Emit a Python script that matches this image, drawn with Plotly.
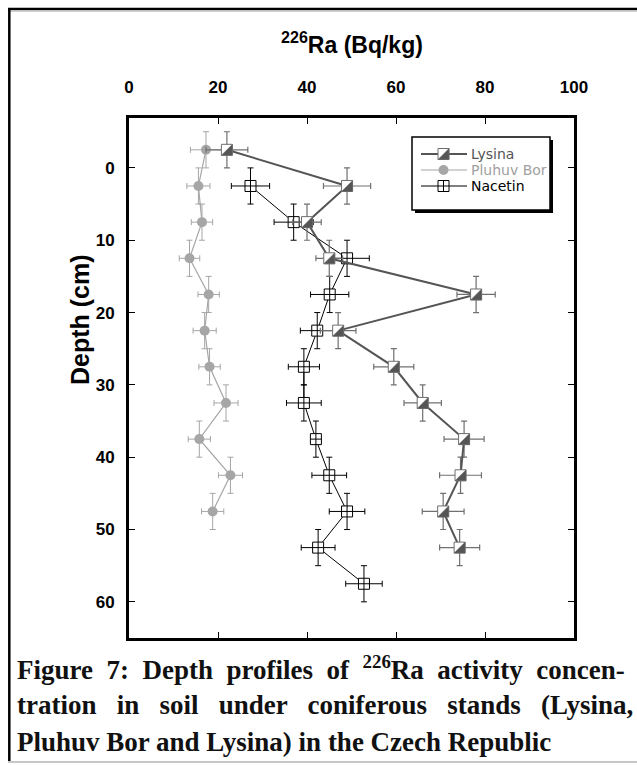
import plotly.graph_objects as go

# ---------------- data ----------------
lysina_depth = [-2.5, 2.5, 7.5, 12.5, 17.5, 22.5, 27.5, 32.5, 37.5, 42.5, 47.5, 52.5]
lysina_ra = [22.0, 49.0, 40.0, 45.0, 78.0, 47.0, 59.5, 66.0, 75.3, 74.5, 70.6, 74.3]
lysina_ra_err = [4.7, 5.3, 3.2, 3.0, 4.3, 4.0, 4.5, 4.2, 4.5, 4.7, 4.7, 4.5]
lysina_depth_err = [2.5, 2.5, 2.5, 2.5, 2.5, 2.5, 2.5, 2.5, 2.5, 2.5, 2.5, 2.5]

pluhuv_depth = [-2.5, 2.5, 7.5, 12.5, 17.5, 22.5, 27.5, 32.5, 37.5, 42.5, 47.5]
pluhuv_ra = [17.3, 15.6, 16.4, 13.6, 17.9, 17.0, 18.1, 21.8, 15.8, 22.8, 18.8]
pluhuv_ra_err = [3.5, 2.6, 2.4, 2.3, 2.4, 2.6, 2.4, 2.7, 2.5, 2.7, 2.5]
pluhuv_depth_err = [2.5, 2.5, 2.5, 2.5, 2.5, 2.5, 2.5, 2.5, 2.5, 2.5, 2.5]

nacetin_depth = [2.5, 7.5, 12.5, 17.5, 22.5, 27.5, 32.5, 37.5, 42.5, 47.5, 52.5, 57.5]
nacetin_ra = [27.3, 37.0, 49.0, 45.1, 42.3, 39.3, 39.3, 42.0, 45.0, 49.0, 42.5, 52.8]
nacetin_ra_err = [4.3, 4.4, 5.0, 4.3, 3.8, 3.5, 3.9, 1.0, 3.9, 4.0, 3.8, 4.1]
nacetin_depth_err = [2.5, 2.5, 2.5, 2.5, 2.5, 2.5, 2.5, 2.5, 2.5, 2.5, 2.5, 2.5]

series_names = ["Lysina", "Pluhuv Bor", "Nacetin"]
x_ticks = [0, 20, 40, 60, 80, 100]
y_ticks = [0, 10, 20, 30, 40, 50, 60]
x_title = "<sup>226</sup>Ra (Bq/kg)"
y_title = "Depth (cm)"
# caption lines; lines 1-2 are justified in the original (extra spacing between words)
caption_lines = [
    ("Figure 7: Depth profiles of <sup>226</sup>Ra activity concen-", 1),
    ("tration in soil under coniferous stands (Lysina,", 2),
    ("Pluhuv Bor and Lysina) in the Czech Republic", 0),
]

# ---------------- layout geometry ----------------
W, H = 637, 765
L, R, T, B = 129, 63, 118, 127
PW, PH = W - L - R, H - T - B

def px(xp):
    return (xp - L) / PW

def py(yp):
    return 1 - (yp - T) / PH

LYS_LINE = "#555555"
LYS_FILL = "#555555"
LYS_EDGE = "#6e6e6e"
PLU = "#a6a6a6"
NAC = "#000000"

AX_FONT = "Liberation Sans, Arial"

fig = go.Figure()

fig.add_trace(go.Scatter(
    x=pluhuv_ra, y=pluhuv_depth, mode="lines+markers", name=series_names[1],
    line=dict(color=PLU, width=1.2),
    marker=dict(symbol="circle", size=10, color=PLU),
    error_x=dict(type="data", array=pluhuv_ra_err, color=PLU, thickness=1, width=3),
    error_y=dict(type="data", array=pluhuv_depth_err, color=PLU, thickness=1, width=3),
    showlegend=False,
))

fig.add_trace(go.Scatter(
    x=nacetin_ra, y=nacetin_depth, mode="lines+markers", name=series_names[2],
    line=dict(color=NAC, width=1),
    marker=dict(symbol="square-cross", size=11, color="white", line=dict(color=NAC, width=1)),
    error_x=dict(type="data", array=nacetin_ra_err, color=NAC, thickness=1, width=3),
    error_y=dict(type="data", array=nacetin_depth_err, color=NAC, thickness=1, width=3),
    showlegend=False,
))

fig.add_trace(go.Scatter(
    x=lysina_ra, y=lysina_depth, mode="lines", name=series_names[0],
    line=dict(color=LYS_LINE, width=2),
    error_x=dict(type="data", array=lysina_ra_err, color="#707070", thickness=1.2, width=3),
    error_y=dict(type="data", array=lysina_depth_err, color="#707070", thickness=1.2, width=3),
    showlegend=False,
))

shapes = []
r = 5.5

def half_square(xref, yref, xa, ya):
    out = []
    out.append(dict(type="path", xref=xref, yref=yref, xsizemode="pixel", ysizemode="pixel",
                    xanchor=xa, yanchor=ya,
                    path=f"M{-r},{-r} L{r},{-r} L{r},{r} L{-r},{r} Z",
                    fillcolor="white", line=dict(color=LYS_EDGE, width=1), layer="above"))
    out.append(dict(type="path", xref=xref, yref=yref, xsizemode="pixel", ysizemode="pixel",
                    xanchor=xa, yanchor=ya,
                    path=f"M{r},{r} L{r},{-r} L{-r},{-r} Z",
                    fillcolor=LYS_FILL, line=dict(color=LYS_EDGE, width=0.5), layer="above"))
    return out

for xv, yv in zip(lysina_ra, lysina_depth):
    shapes += half_square("x", "y", xv, yv)

# ---------------- outer figure border ----------------
shapes.append(dict(type="line", xref="paper", yref="paper", x0=px(8), x1=px(637), y0=py(9), y1=py(9),
                   line=dict(color="black", width=2.5), layer="above"))
shapes.append(dict(type="line", xref="paper", yref="paper", x0=px(8), x1=px(637), y0=py(11.2), y1=py(11.2),
                   line=dict(color="#bdbdbd", width=1), layer="above"))
shapes.append(dict(type="line", xref="paper", yref="paper", x0=px(9.3), x1=px(9.3), y0=py(8), y1=py(762),
                   line=dict(color="black", width=2.5), layer="above"))
shapes.append(dict(type="line", xref="paper", yref="paper", x0=px(8), x1=px(637), y0=py(762), y1=py(762),
                   line=dict(color="#c8c8c8", width=2), layer="above"))

# ---------------- manual legend ----------------
lg_l, lg_t, lg_r, lg_b = 412, 137, 550, 210
shapes.append(dict(type="rect", xref="paper", yref="paper", x0=px(lg_l + 3), x1=px(lg_r + 3),
                   y0=py(lg_t + 3), y1=py(lg_b + 3), fillcolor="black", line=dict(width=0), layer="above"))
shapes.append(dict(type="rect", xref="paper", yref="paper", x0=px(lg_l), x1=px(lg_r),
                   y0=py(lg_t), y1=py(lg_b), fillcolor="white", line=dict(color="black", width=1.5), layer="above"))

rows = [154, 170, 186]
seg_x0, seg_x1, mk_x, txt_x = 421, 467, 443.5, 469
line_cols = [LYS_LINE, PLU, NAC]
line_ws = [2, 1.2, 1]
text_cols = ["#555555", "#a0a0a0", "#000000"]
for i, ry in enumerate(rows):
    shapes.append(dict(type="line", xref="paper", yref="paper", x0=px(seg_x0), x1=px(seg_x1),
                       y0=py(ry), y1=py(ry), line=dict(color=line_cols[i], width=line_ws[i]), layer="above"))
shapes += half_square("paper", "paper", px(mk_x), py(rows[0]))
shapes.append(dict(type="circle", xref="paper", yref="paper", xsizemode="pixel", ysizemode="pixel",
                   xanchor=px(mk_x), yanchor=py(rows[1]), x0=-5, x1=5, y0=-5, y1=5,
                   fillcolor=PLU, line=dict(width=0), layer="above"))
shapes.append(dict(type="path", xref="paper", yref="paper", xsizemode="pixel", ysizemode="pixel",
                   xanchor=px(mk_x), yanchor=py(rows[2]),
                   path=f"M{-r},{-r} L{r},{-r} L{r},{r} L{-r},{r} Z M0,{-r} L0,{r} M{-r},0 L{r},0",
                   fillcolor="white", line=dict(color=NAC, width=1), layer="above"))

annotations = []
for i, ry in enumerate(rows):
    annotations.append(dict(x=px(txt_x), y=py(ry), xref="paper", yref="paper", text=series_names[i],
                            showarrow=False, xanchor="left", yanchor="middle",
                            font=dict(family="DejaVu Sans", size=14, color=text_cols[i])))

# axis titles
annotations.append(dict(x=0.5, y=py(43), xref="paper", yref="paper", text=x_title, showarrow=False,
                        xanchor="center", yanchor="middle",
                        font=dict(family=AX_FONT, size=23, color="black", weight="bold")))
annotations.append(dict(x=px(80), y=py(320), xref="paper", yref="paper", text=y_title, showarrow=False,
                        xanchor="center", yanchor="middle", textangle=-90,
                        font=dict(family=AX_FONT, size=25, color="black", weight="bold")))

# caption
cap_y = [668, 705, 742]
for i, (line, extra) in enumerate(caption_lines):
    sep = " " + "\u00a0" * extra
    txt = sep.join(line.split(" "))
    annotations.append(dict(x=px(15), y=py(cap_y[i]), xref="paper", yref="paper",
                            text=f"<b>{txt}</b>", showarrow=False, xanchor="left", yanchor="middle",
                            font=dict(family="Liberation Serif", size=27, color="#111111")))

fig.update_layout(
    width=W, height=H,
    margin=dict(l=L, r=R, t=T, b=B, pad=0),
    paper_bgcolor="white", plot_bgcolor="white",
    showlegend=False,
    shapes=shapes,
    annotations=annotations,
    xaxis=dict(range=[0, 100], side="top", tickvals=x_ticks, ticks="inside", ticklen=6, tickwidth=1,
               tickcolor="black", showline=True, linewidth=3, linecolor="black", mirror="ticks",
               showgrid=False, zeroline=False, ticklabelstandoff=15,
               tickfont=dict(family=AX_FONT, size=17, color="black", weight="bold")),
    yaxis=dict(range=[65, -6.9], tickvals=y_ticks, ticks="inside", ticklen=6, tickwidth=1,
               tickcolor="black", showline=True, linewidth=3, linecolor="black", mirror="ticks",
               showgrid=False, zeroline=False, ticklabelstandoff=8,
               tickfont=dict(family=AX_FONT, size=17, color="black", weight="bold")),
)

fig.write_html("out.html")
